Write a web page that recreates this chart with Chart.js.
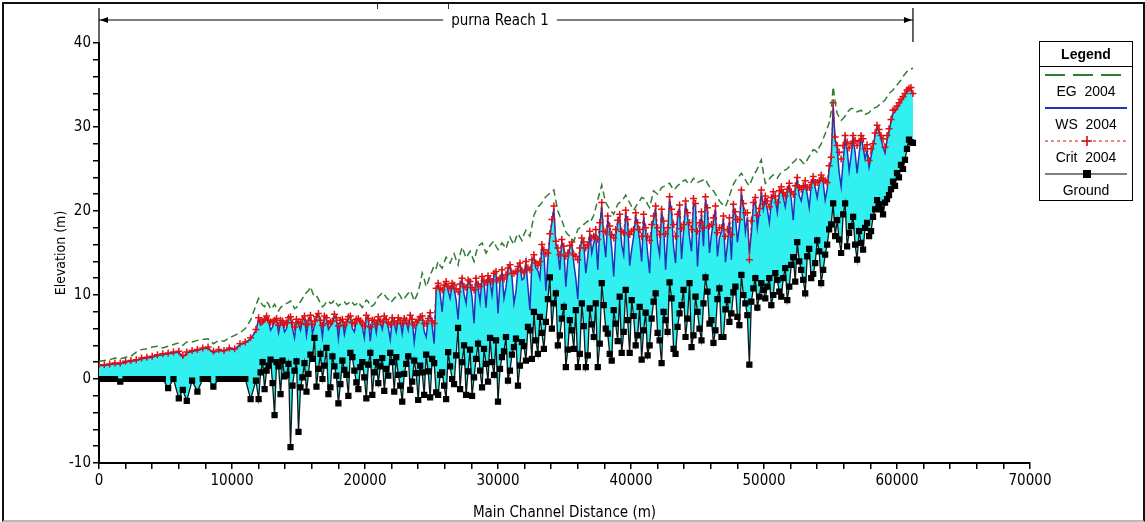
<!DOCTYPE html>
<html>
<head>
<meta charset="utf-8">
<script src="https://cdn.jsdelivr.net/npm/chart.js@4.4.1/dist/chart.umd.min.js"></script>
<style>
  body { margin: 0; background: #fff; }
  #wrap { position: relative; width: 1145px; height: 522px; overflow: hidden; }
  #frame { position: absolute; left: 2px; top: 2px; width: 1139px; height: 516px;
           border: 2px solid #111; border-bottom: 2px solid #bbb; pointer-events: none; }
  .nick { position: absolute; top: 4px; width: 1px; height: 5px; background: #333; }
  #legend { position: absolute; left: 1039px; top: 41px; width: 92px; height: 158px;
            border: 1.5px solid #000; font-family: 'Liberation Sans', Arial, sans-serif;
            font-size: 14px; color: #000; text-align: center; }
  #legend .title { font-weight: bold; height: 24px; line-height: 24px; border-bottom: 1.5px solid #000; }
  #legend svg { display: block; margin: 0 auto; }
  #legend .lab { height: 17px; line-height: 17px; }
</style>
</head>
<body>
<div id="wrap">
  <canvas id="profile" width="1145" height="522"></canvas>
  <div id="frame"></div>
  <div class="nick" style="left:377px"></div>
  <div class="nick" style="left:448px"></div>
  <div id="legend">
    <div class="title">Legend</div>
    <svg width="90" height="16"><line x1="4" y1="8" x2="86" y2="8" stroke="#2e7d32" stroke-width="2" stroke-dasharray="20,8"/></svg>
    <div class="lab">EG&nbsp; 2004</div>
    <svg width="90" height="16"><line x1="4" y1="8" x2="86" y2="8" stroke="#2233bb" stroke-width="2"/></svg>
    <div class="lab">WS&nbsp; 2004</div>
    <svg width="90" height="16"><line x1="4" y1="8" x2="86" y2="8" stroke="#d01010" stroke-width="1.2" stroke-dasharray="3,3"/><path d="M41 8 H51 M46 3 V13" stroke="#d01010" stroke-width="1.6"/></svg>
    <div class="lab">Crit&nbsp; 2004</div>
    <svg width="90" height="16"><line x1="4" y1="8" x2="86" y2="8" stroke="#000" stroke-width="1.2"/><rect x="42" y="4" width="8" height="8" fill="#000"/></svg>
    <div class="lab">Ground</div>
  </div>
</div>
<script>
// main channel distance of each cross section (m)
let distances = [
  0, 400, 800, 1200, 1600, 2000, 2400, 2800, 3200, 3600, 4000, 4400, 4800, 5200, 5600, 6000, 6300, 6600, 7000, 7400,
  7800, 8200, 8600, 9000, 9400, 9800, 10200, 10600, 11000, 11400, 11800,
  12000, 12300, 12600, 12900, 13200, 13500, 13800, 14100, 14400, 14700, 15000, 15300, 15600, 15900, 16200, 16500, 16800,
  17100, 17400, 17700, 18000, 18300, 18600, 18900, 19200, 19500, 19800, 20100, 20400, 20700, 21000, 21300, 21600, 21900,
  22200, 22500, 22800, 23100, 23400, 23700, 24000, 24300, 24600, 24900, 25200,
  25500, 25800, 26100, 26400, 26700, 27000, 27300, 27600, 27900, 28200, 28500, 28800, 29100, 29400, 29700, 30000, 30300,
  30600, 30900, 31200, 31500, 31800, 32100, 32400, 32700, 33000, 33300, 33600, 33900, 34200, 34500, 34800, 35100, 35400,
  35700, 36000, 36300, 36600, 36900,
  37200, 37500, 37800, 38100, 38400, 38700, 39000, 39300, 39600, 39900, 40200, 40500, 40800, 41100, 41400, 41700, 42000,
  42300, 42600, 42900, 43200, 43500, 43800, 44100, 44400, 44700, 45000, 45300, 45600, 45900, 46200, 46500, 46800, 47100,
  47400, 47700, 48000, 48300, 48600, 48900, 49200, 49500, 49800,
  50100, 50400, 50700, 51000, 51300, 51600, 51900, 52200, 52500, 52800, 53100, 53400, 53700, 54000, 54300, 54600, 54900,
  55200, 55500, 55800, 56100, 56400, 56700, 57000, 57300, 57600, 57900, 58200, 58500, 58800, 59100, 59400, 59700, 60000,
  60300, 60600, 60900, 61200
]

// energy grade line 2004
let egValues = [
  2.1, 2.2, 2.3, 2.5, 2.4, 2.6, 2.7, 3.2, 3.5, 3.6, 3.8, 3.9, 3.7, 3.9, 4.1, 4.3, 4.0, 4.4, 4.4, 4.6,
  4.7, 4.8, 4.2, 4.6, 4.5, 4.9, 5.2, 5.5, 6.0, 7.0, 8.8,
  9.6, 8.8, 9.2, 8.3, 8.9, 8.1, 8.7, 9.0, 9.3, 8.4, 8.9, 9.6, 10.3, 11.0, 9.8, 9.5, 8.6,
  9.2, 9.0, 9.4, 8.7, 9.1, 8.9, 9.3, 8.8, 9.2, 8.5, 9.4, 8.6, 8.9, 9.8, 10.3, 9.7, 9.1,
  9.6, 10.2, 9.4, 9.9, 10.5, 9.3, 10.4, 12.6, 11.0, 12.4, 13.5,
  14.0, 13.2, 14.5, 13.8, 14.9, 13.6, 15.7, 14.4, 15.2, 14.0, 15.8, 16.2, 15.0, 15.9, 16.4, 15.4, 16.2,
  15.5, 16.9, 16.0, 17.3, 16.5, 17.7, 17.0, 19.5, 20.5, 21.0, 21.7, 22.1, 22.5, 20.0, 18.9, 17.5, 17.0,
  16.4, 17.8, 18.2, 18.6, 18.6,
  19.5, 21.3, 23.1, 21.0, 20.2, 19.6, 20.8, 21.2, 21.9, 21.0, 20.1, 20.9, 21.6, 21.3, 20.4, 22.4, 22.0,
  22.8, 23.0, 23.3, 22.5, 23.0, 23.5, 23.7, 23.2, 23.9, 23.4, 23.6, 23.8, 22.9, 22.4, 21.6, 20.9, 20.5,
  21.8, 23.2, 24.0, 24.5, 23.7, 23.0, 24.2, 25.0, 26.1,
  23.3, 23.8, 24.3, 23.9, 24.6, 24.9, 25.3, 25.8, 26.4, 26.0, 25.6, 26.5, 27.3, 27.0, 28.0, 29.2, 30.5,
  34.8, 31.6, 30.8, 31.3, 32.0, 32.2, 31.8, 32.0, 31.5, 31.7, 32.2, 32.4, 32.8, 33.2, 34.0, 34.4, 35.0,
  35.6, 36.3, 36.8, 37.0
]

// water surface 2004
let wsValues = [
  1.6, 1.6, 1.7, 1.8, 1.8, 2.0, 2.1, 2.2, 2.4, 2.5, 2.6, 2.8, 2.9, 3.0, 3.1, 3.2, 2.6, 3.1, 3.3, 3.4,
  3.6, 3.7, 3.1, 3.4, 3.3, 3.6, 3.5, 4.1, 4.3, 4.8, 5.7,
  7.2, 6.6, 7.4, 5.8, 6.9, 5.5, 6.8, 6.0, 7.3, 4.9, 6.5, 7.0, 5.2, 7.5, 6.4, 7.8, 5.0,
  7.2, 6.3, 7.6, 4.8, 7.0, 6.5, 7.4, 5.6, 7.1, 6.2, 7.5, 4.5, 6.9, 7.3, 5.9, 7.0, 4.7,
  6.6, 7.2, 5.4, 6.8, 7.5, 4.4, 6.9, 7.4, 5.0, 7.8, 4.2,
  11.2, 8.0, 11.5, 9.6, 10.8, 7.1, 11.9, 9.0, 11.4, 6.6, 10.9, 12.0, 8.5, 11.6, 12.4, 7.8, 12.8,
  10.9, 13.5, 9.0, 13.2, 11.8, 13.9, 8.2, 14.5, 12.9, 15.8, 10.5, 17.0, 20.3, 15.2, 16.4, 11.0, 15.7,
  13.8, 9.5, 16.5, 12.6, 17.3,
  16.2, 13.0, 20.6, 14.5, 17.8, 12.2, 18.5, 16.0, 19.7, 13.5, 17.0, 18.2, 14.0, 17.6, 12.6, 19.0, 16.2,
  20.0, 13.0, 21.4, 15.8, 19.2, 14.3, 20.8, 16.9, 21.0, 13.4, 19.5, 21.3, 15.0, 18.7, 14.6, 17.5, 13.9,
  18.8, 20.4, 16.3, 22.1, 17.5, 15.0, 20.6, 18.0, 22.2,
  21.5, 18.6, 22.0, 19.8, 22.6, 20.5, 23.0, 18.9, 23.8, 21.2, 23.2, 20.4, 23.8, 21.6, 24.0, 21.3, 25.0,
  32.6, 27.5, 22.9, 28.6, 24.8, 28.7, 24.5, 28.8, 26.2, 25.2, 27.6, 30.0, 28.6, 26.9, 29.4, 31.6, 32.2,
  33.0, 33.8, 34.4, 33.8
]

// critical depth 2004
let critValues = [
  1.7, 1.7, 1.8, 1.9, 1.9, 2.1, 2.2, 2.3, 2.5, 2.6, 2.7, 2.9, 3.0, 3.1, 3.2, 3.3, 2.8, 3.2, 3.4, 3.5,
  3.7, 3.8, 3.3, 3.5, 3.4, 3.7, 3.6, 4.2, 4.4, 4.9, 5.9,
  7.3, 6.9, 7.5, 6.8, 7.0, 6.4, 6.9, 6.7, 7.4, 6.2, 6.8, 7.1, 6.5, 7.6, 6.9, 7.8, 6.4,
  7.3, 6.8, 7.7, 6.3, 7.1, 6.8, 7.5, 6.6, 7.2, 6.7, 7.6, 6.2, 7.0, 7.4, 6.8, 7.1, 6.5,
  6.9, 7.3, 6.6, 7.0, 7.6, 6.4, 7.0, 7.5, 6.6, 7.9, 6.6,
  11.4, 10.6, 11.6, 10.8, 11.2, 10.4, 12.0, 10.9, 11.6, 10.6, 11.3, 12.2, 11.5, 11.9, 12.6, 11.8, 13.0,
  12.4, 13.6, 12.6, 13.4, 12.9, 14.0, 13.0, 14.8, 13.5, 16.0, 14.9, 17.3, 20.6, 15.6, 16.6, 14.6, 15.9,
  14.8, 14.2, 16.8, 15.6, 17.6,
  17.0, 16.6, 21.0, 17.5, 18.2, 16.8, 18.9, 17.6, 20.1, 17.2, 17.8, 18.6, 17.0, 18.0, 16.5, 19.4, 18.0,
  20.2, 17.3, 21.7, 18.4, 19.6, 17.9, 21.2, 18.6, 21.5, 17.6, 19.9, 21.7, 18.2, 19.2, 17.4, 18.0, 17.0,
  19.2, 20.8, 19.0, 22.5, 19.8, 14.2, 21.0, 19.5, 22.5,
  21.8, 20.5, 22.3, 21.0, 22.9, 21.8, 23.3, 22.0, 24.0, 22.6, 23.6, 22.8, 24.1, 23.4, 24.3, 23.6, 25.4,
  32.9, 27.8, 26.2, 29.0, 27.5, 29.0, 27.8, 29.0, 27.4, 26.0, 28.0, 30.2, 29.0, 27.6, 29.8, 32.0, 32.5,
  33.3, 34.0, 34.6, 34.0
]

// channel bed
let groundValues = [
  0, 0, 0, 0, -0.3, 0, 0, 0, 0, 0, 0, 0, 0, -1.1, 0, -2.3, -1.3, -2.6, -0.2, -1.5,
  0, 0, -0.9, 0, 0, 0, 0, 0, 0, -2.4, -0.2,
  -2.4, 2.0, 1.0, 2.3, -4.3, 1.5, 2.2, 0.5, -8.1, 1.0, -6.3, 0.2, -1.5, 2.9, 4.9, 1.2, 0.0,
  3.7, -1.0, 1.5, -2.9, 2.2, 0.5, 3.1, 1.0, -1.2, 2.0, -2.3, 3.1, 0.8, -0.5, 2.5, 1.2, 3.1,
  -1.5, 0.5, -2.7, 1.8, -1.3, 2.2, -2.5, 0.8, 2.9, -2.2, 1.9,
  -1.9, 0.8, -2.4, 1.5, -0.6, 6.1, 2.0, -1.9, 3.5, 0.2, 4.2, -1.0, 1.8, 4.9, 0.5, -2.7, 2.6,
  5.0, 1.0, 3.8, -0.8, 4.4, 2.2, 5.8, 8.0, 3.0, 5.5, 6.8, 12.1, 9.0, 4.0, 7.2, 1.4, 7.0,
  3.6, 1.4, 9.0, 1.4, 8.4,
  5.0, 1.4, 11.4, 6.0, 3.0, 8.2, 4.5, 3.1, 10.6, 3.1, 7.5, 5.2, 2.3, 7.9, 4.0, 9.2, 5.5,
  1.9, 7.0, 11.5, 3.6, 6.2, 8.8, 5.0, 11.4, 5.2, 8.0, 4.6, 12.1, 6.6, 4.3, 9.5, 5.0, 8.3,
  6.8, 10.3, 7.4, 12.4, 9.0, 1.7, 10.8, 8.5, 11.4,
  9.6, 12.0, 10.0, 11.8, 9.8, 13.2, 11.0, 14.5, 16.3, 13.0, 10.2, 15.5, 12.5, 16.5, 11.4, 14.8, 17.8,
  20.9, 18.9, 15.0, 20.9, 17.4, 19.3, 14.2, 16.2, 18.0, 17.0, 19.3, 21.3, 20.2, 21.0, 21.9, 23.5, 24.5,
  25.5, 26.1, 28.5, 28.1
]

// in-between cross sections, read from the denser parts of the reach
let extraDistances = [
  12150, 12450, 12750, 13050, 13350, 13650, 13950, 14250, 14550, 14850, 15150, 15450, 15750, 16050, 16350,
  16650, 16950, 17250, 17550, 17850, 18150, 18450, 18750, 19050, 19350, 19650, 19950, 20250, 20550, 20850,
  21150, 21450, 21750, 22050, 22350, 22650, 22950, 23250, 23550, 23850, 24150, 24450, 24750, 25050, 25350,
  25650, 25950, 26250, 26550, 26850, 27150, 27450, 27750, 28050, 28350, 28650, 28950, 29250, 29550, 29850,
  30150, 30450, 30750, 31050, 31350, 31650, 31950, 32250, 32550, 32850, 33150, 33450, 33750, 34050, 34350,
  34650, 34950, 35250, 35550, 35850, 36150, 36450, 36750,
  37050, 37350, 37650, 37950, 38250, 38550, 38850, 39150, 39450, 39750, 40050, 40350, 40650, 40950, 41250,
  41550, 41850, 42150, 42450, 42750, 43050, 43350, 43650, 43950, 44250, 44550, 44850, 45150, 45450, 45750,
  46050, 46350, 46650, 46950, 47250, 47550, 47850, 48150, 48450, 48750, 49050, 49350, 49650, 49950,
  50250, 50550, 50850, 51150, 51450, 51750, 52050, 52350, 52650, 52950, 53250, 53550, 53850, 54150, 54450,
  54750, 55050, 55350, 55650, 55950, 56250, 56550, 56850, 57150, 57450, 57750, 58050, 58350, 58650, 58950,
  59250, 59550, 59850, 60150, 60450, 60750, 61050
]

let extraEg = [
  9.1, 8.6, 8.9, 8.5, 8.4, 8.5, 8.8, 9.1, 8.9, 8.5, 9.2, 10.0, 10.5, 10.3, 9.9,
  9.0, 8.8, 9.3, 9.1, 9.0, 8.9, 9.2, 9.0, 9.1, 8.9, 8.8, 9.0, 9.2, 8.7, 9.3,
  10.0, 10.1, 9.5, 9.3, 9.8, 9.9, 9.6, 10.2, 10.0, 9.8, 11.4, 11.9, 11.6, 12.9, 13.2,
  13.5, 13.9, 14.1, 14.4, 14.2, 14.8, 15.1, 14.8, 14.6, 15.0, 16.0, 15.6, 15.4, 16.2, 15.8,
  15.8, 15.9, 16.3, 16.4, 16.8, 16.9, 17.2, 17.3, 18.2, 20.0, 20.7, 21.4, 21.9, 22.3, 21.2,
  19.4, 18.2, 17.2, 16.7, 17.1, 18.0, 18.4, 18.8,
  19.0, 20.4, 22.2, 22.0, 20.6, 19.9, 20.2, 21.0, 21.5, 21.4, 20.5, 20.5, 21.2, 21.5, 20.8,
  21.4, 22.2, 22.4, 22.9, 23.2, 22.9, 22.7, 23.2, 23.6, 23.4, 23.5, 23.6, 23.5, 23.7, 23.3,
  22.6, 22.0, 21.2, 20.7, 21.1, 22.5, 23.6, 24.2, 24.1, 23.3, 23.6, 24.6, 25.6, 24.6,
  23.5, 24.1, 24.0, 24.3, 24.8, 25.0, 25.6, 26.0, 26.2, 25.7, 26.1, 26.9, 27.2, 27.6, 28.6,
  29.8, 31.8, 33.0, 31.2, 31.0, 31.7, 32.2, 32.0, 31.9, 31.7, 31.6, 32.0, 32.3, 32.6, 33.0,
  33.6, 34.2, 34.7, 35.3, 36.0, 36.6, 36.9
]

let extraWs = [
  6.4, 7.0, 6.9, 6.2, 7.1, 6.7, 5.6, 7.2, 6.0, 7.0, 5.8, 7.4, 6.9, 5.4, 7.3,
  6.8, 7.4, 5.9, 6.6, 7.2, 6.9, 5.3, 7.3, 6.0, 7.0, 6.6, 4.9, 7.1, 6.8, 5.5,
  6.7, 7.4, 6.1, 7.2, 5.6, 6.9, 7.1, 5.8, 7.0, 6.4, 7.3, 5.7, 7.1, 6.3, 10.5,
  10.2, 10.9, 10.5, 11.2, 9.4, 11.0, 10.1, 11.6, 9.7, 11.8, 9.2, 11.4, 12.1, 10.0, 12.6,
  11.5, 9.6, 13.0, 12.2, 10.4, 13.6, 12.0, 11.0, 14.0, 13.2, 12.0, 15.0, 14.2, 18.6, 16.0,
  13.0, 15.4, 14.2, 16.0, 12.0, 15.2, 16.0, 14.6,
  15.0, 17.2, 18.0, 16.8, 19.0, 15.6, 17.0, 19.2, 14.8, 18.6, 15.4, 19.4, 16.6, 19.2, 15.0,
  17.8, 20.2, 14.8, 18.4, 17.0, 19.8, 13.8, 20.3, 17.5, 19.4, 15.2, 20.5, 17.6, 15.8, 20.0,
  17.2, 20.2, 16.8, 19.0, 16.0, 14.2, 19.5, 18.2, 20.5, 19.3, 17.4, 21.2, 19.8, 20.2,
  20.2, 21.0, 21.4, 22.0, 21.6, 22.2, 21.4, 22.6, 21.8, 22.6, 22.0, 23.0, 22.8, 23.2, 23.4,
  22.6, 26.0, 28.4, 24.6, 26.0, 27.4, 26.6, 27.0, 26.8, 27.6, 27.2, 26.5, 29.0, 29.4, 27.6,
  28.4, 30.6, 31.8, 32.6, 33.4, 34.2, 34.5
]

let extraCrit = [
  6.8, 7.1, 7.0, 6.8, 7.2, 7.0, 6.5, 7.3, 6.7, 7.1, 6.6, 7.5, 7.0, 6.5, 7.4,
  7.0, 7.5, 6.6, 6.9, 7.3, 7.0, 6.4, 7.4, 6.7, 7.1, 6.9, 6.3, 7.2, 7.0, 6.5,
  6.9, 7.5, 6.7, 7.3, 6.6, 7.0, 7.2, 6.6, 7.1, 6.8, 7.4, 6.6, 7.2, 6.9, 10.8,
  10.8, 11.2, 11.0, 11.4, 10.7, 11.3, 11.0, 11.8, 10.9, 12.0, 11.0, 11.7, 12.3, 11.6, 12.8,
  12.0, 11.9, 13.2, 12.6, 12.8, 13.8, 12.7, 13.2, 14.2, 13.8, 14.0, 15.4, 15.0, 19.0, 16.4,
  14.8, 15.8, 15.0, 16.3, 14.6, 15.6, 16.3, 16.0,
  16.8, 17.8, 18.6, 17.6, 19.4, 17.2, 17.8, 19.6, 17.4, 19.0, 17.6, 19.8, 17.8, 19.6, 17.0,
  18.4, 20.6, 17.2, 18.8, 18.0, 20.2, 17.0, 20.7, 18.4, 19.8, 17.8, 20.9, 18.6, 18.0, 20.4,
  18.4, 20.6, 18.0, 19.4, 17.8, 17.2, 19.9, 19.0, 20.9, 19.8, 18.8, 21.6, 20.3, 20.8,
  21.2, 21.6, 21.8, 22.4, 22.2, 22.6, 22.3, 23.0, 22.8, 23.0, 22.8, 23.4, 23.4, 23.6, 23.8,
  23.4, 26.4, 28.8, 27.0, 27.8, 28.2, 28.0, 28.4, 28.3, 28.6, 27.9, 27.4, 29.3, 29.7, 28.6,
  29.0, 30.9, 32.1, 32.9, 33.6, 34.4, 34.7
]

let extraGround = [
  0.8, -1.2, 1.6, -0.5, 2.0, -1.8, 0.3, 1.8, -0.8, 2.1, -1.0, 1.9, 0.6, 2.4, -0.9,
  3.0, 1.6, -1.8, 2.7, 0.4, -0.6, 1.1, -2.0, 2.6, -0.4, 1.4, 0.2, 1.7, -1.9, 2.0,
  1.5, -1.4, 0.4, 2.0, 2.6, -0.8, 0.6, 2.7, -0.3, 0.7, 1.6, -1.9, 0.9, 2.4, -1.6,
  0.5, -0.8, 3.2, 0.0, 2.8, -1.2, 4.0, 0.9, -2.0, 2.4, 1.0, 3.6, -0.3, 2.0, 4.6,
  1.2, 3.3, -0.2, 2.9, 4.8, 1.6, 3.9, 6.2, 2.4, 4.6, 7.4, 3.6, 9.5, 6.0, 10.2,
  5.2, 8.6, 3.5, 5.8, 8.2, 3.0, 6.3, 2.8,
  6.5, 9.0, 4.2, 8.8, 5.4, 2.2, 6.6, 9.8, 5.6, 7.0, 9.4, 4.0, 8.6, 5.8, 2.8,
  7.2, 10.2, 4.6, 8.0, 5.6, 9.6, 3.0, 7.8, 10.6, 7.2, 3.8, 9.8, 6.0, 9.0, 10.4,
  7.0, 5.8, 10.8, 5.0, 9.4, 7.8, 11.0, 6.4, 10.0, 7.6, 9.2, 12.0, 9.8, 10.6,
  11.0, 8.8, 12.6, 10.4, 12.0, 9.4, 13.6, 11.6, 14.0, 11.8, 14.6, 12.0, 13.8, 15.2, 13.0,
  16.0, 18.4, 17.0, 16.6, 19.6, 15.8, 18.2, 16.0, 17.6, 15.4, 18.6, 17.6, 20.2, 20.8, 19.6,
  21.4, 22.6, 23.0, 24.0, 25.0, 27.4, 28.2
]

let xTicksMajor = [0, 10000, 20000, 30000, 40000, 50000, 60000, 70000]
let yTicksMajor = [-10, 0, 10, 20, 30, 40]
let reachName = 'purna Reach 1'
let reachStart = 0
let reachEnd = 61200

// merge both station lists into one table sorted by distance
let stations = distances.map((d, i) => ({d: d, eg: egValues[i], ws: wsValues[i], crit: critValues[i], ground: groundValues[i]}))
extraDistances.forEach(function(d, i) {
  stations.push({d: d, eg: extraEg[i], ws: extraWs[i], crit: extraCrit[i], ground: extraGround[i]})
})
stations.sort((a, b) => a.d - b.d)

function column(key) {
  return stations.map(s => ({x: s.d, y: s[key]}))
}

let narrow = "'Liberation Sans Narrow', 'DejaVu Sans Condensed', 'Liberation Sans', Arial, sans-serif"

// the arrowed reach label over the plot
let reachPlugin = {
  id: 'reach',
  afterDraw(chart) {
    let c = chart.ctx
    let x0 = chart.scales.x.getPixelForValue(reachStart)
    let x1 = chart.scales.x.getPixelForValue(reachEnd)
    let y = 20
    c.save()
    c.strokeStyle = '#000'
    c.fillStyle = '#000'
    c.lineWidth = 1.2
    c.font = '15px ' + narrow
    let tw = c.measureText(reachName).width
    let mid = (x0 + x1) / 2 - 6
    c.beginPath()
    c.moveTo(x0, 8); c.lineTo(x0, 42)
    c.moveTo(x1, 8); c.lineTo(x1, 42)
    c.moveTo(x0, y); c.lineTo(mid - tw / 2 - 8, y)
    c.moveTo(mid + tw / 2 + 8, y); c.lineTo(x1, y)
    c.stroke()
    c.beginPath()
    c.moveTo(x0 + 1, y); c.lineTo(x0 + 9, y - 3); c.lineTo(x0 + 9, y + 3); c.closePath()
    c.moveTo(x1 - 1, y); c.lineTo(x1 - 9, y - 3); c.lineTo(x1 - 9, y + 3); c.closePath()
    c.fill()
    c.textAlign = 'center'
    c.textBaseline = 'middle'
    c.fillText(reachName, mid, y + 1)
    c.restore()
  }
}

let ctx = document.getElementById('profile').getContext('2d')
let profileChart = new Chart(ctx, {
  type: 'line',
  data: {
    datasets: [
      {label: 'EG 2004', data: column('eg'), borderColor: '#2e7d32', borderWidth: 1.5,
       borderDash: [7, 4], pointRadius: 0, fill: false, order: 0},
      {label: 'WS 2004', data: column('ws'), borderColor: '#2233bb', borderWidth: 1.5,
       pointRadius: 0, fill: {target: 3}, backgroundColor: '#33f0f0', order: 3},
      {label: 'Crit 2004', data: column('crit'), borderColor: '#d01010', borderWidth: 1,
       borderDash: [3, 3], pointStyle: 'cross', pointRadius: 3.5, pointBorderWidth: 1.5,
       pointBorderColor: '#e01010', fill: false, order: 1},
      {label: 'Ground', data: column('ground'), borderColor: '#0a1a1a', borderWidth: 1.3,
       pointStyle: 'rect', pointRadius: 3.5, pointBackgroundColor: '#000', pointBorderColor: '#000',
       fill: false, order: 2}
    ]
  },
  options: {
    responsive: false,
    animation: false,
    layout: {padding: {left: 53, top: 43, right: 115, bottom: 0}},
    plugins: {legend: {display: false}, tooltip: {enabled: false}},
    elements: {line: {tension: 0}},
    scales: {
      x: {
        type: 'linear', min: 0, max: 70000,
        afterFit(scale) { scale.height = 59 },
        border: {color: '#000', width: 2},
        grid: {drawOnChartArea: false, color: '#000', lineWidth: 1.5, tickLength: 6},
        ticks: {
          stepSize: 2000, autoSkip: false, maxRotation: 0, color: '#000', padding: 3,
          font: {family: narrow, size: 15},
          callback: v => xTicksMajor.includes(v) ? String(v) : ''
        },
        title: {display: true, text: 'Main Channel Distance (m)', color: '#000',
                font: {family: narrow, size: 15}, padding: {top: 7, bottom: 0}}
      },
      y: {
        min: -10, max: 40,
        afterFit(scale) { scale.width = 46 },
        border: {color: '#000', width: 2},
        grid: {drawOnChartArea: false, color: '#000', lineWidth: 1.5, tickLength: 6},
        ticks: {
          stepSize: 2, autoSkip: false, color: '#000', padding: 2,
          font: {family: narrow, size: 15},
          callback: v => yTicksMajor.includes(v) ? String(v) : ''
        },
        title: {display: true, text: 'Elevation (m)', color: '#000',
                font: {family: narrow, size: 14}, padding: {top: 0, bottom: 0}}
      }
    }
  },
  plugins: [reachPlugin]
})
</script>
</body>
</html>
